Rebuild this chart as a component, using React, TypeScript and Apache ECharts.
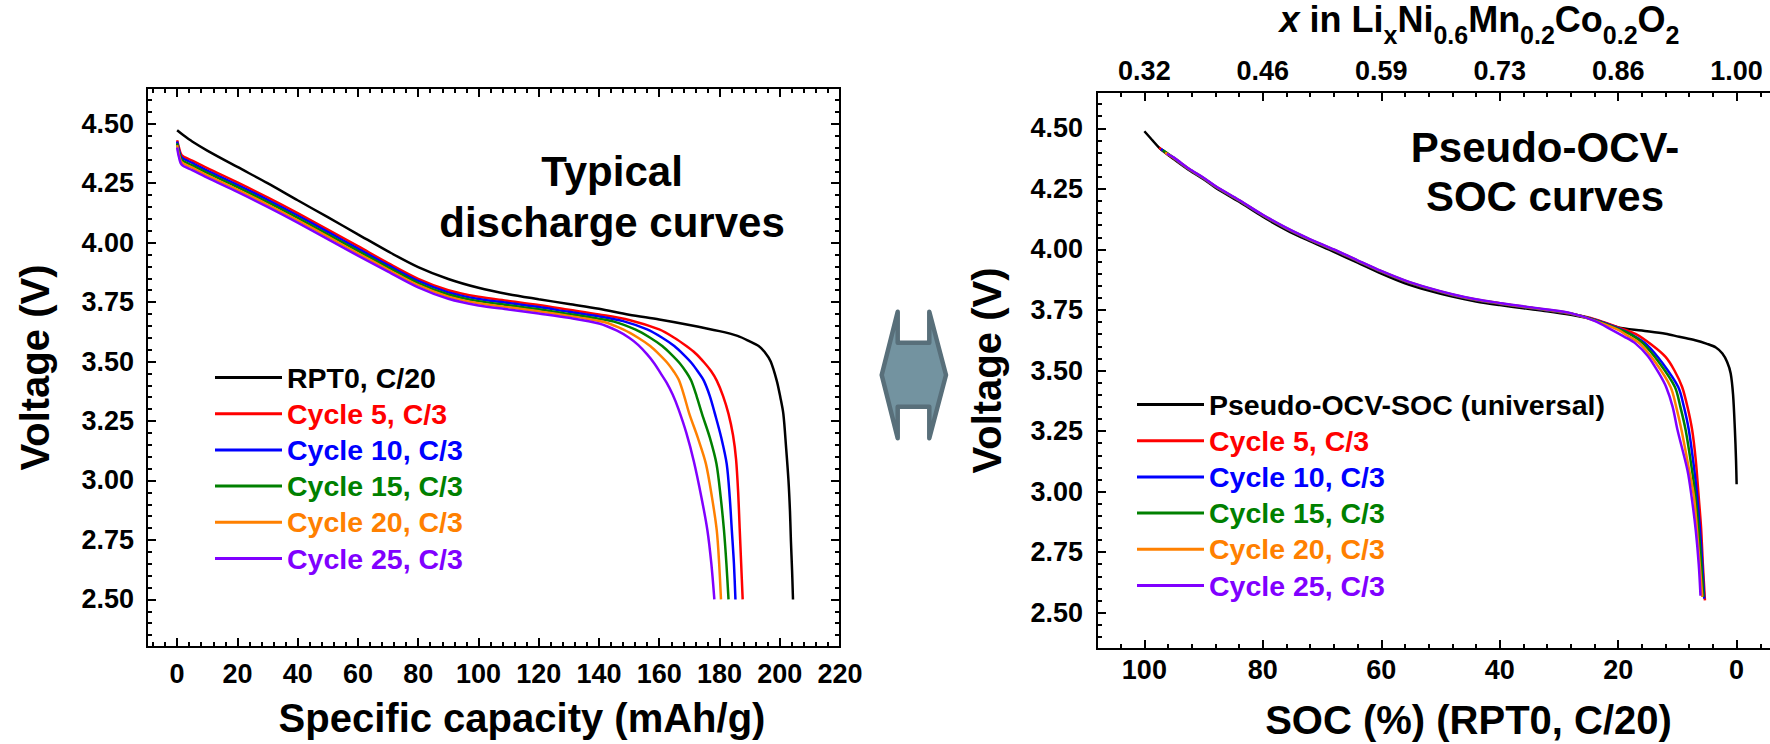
import React, { useEffect, useRef } from "react";
import * as echarts from "echarts";

const FONT = '"Liberation Sans", Arial, Helvetica, sans-serif';

// ---------- Left panel: [specific capacity (mAh/g), voltage (V)] ----------
const capRpt0: number[][] = [
  [0, 4.472], [2, 4.452], [5, 4.425], [10, 4.387], [20, 4.318], [30, 4.25], [40, 4.178],
  [50, 4.107], [60, 4.035], [70, 3.963], [80, 3.897], [90, 3.847], [100, 3.81],
  [110, 3.783], [120, 3.762], [130, 3.742], [140, 3.722], [150, 3.697], [160, 3.677],
  [170, 3.654], [180, 3.628], [186, 3.608], [190, 3.585], [193, 3.565], [195, 3.54],
  [197, 3.5], [199, 3.42], [200.2, 3.35], [201.2, 3.28], [202.1, 3.14], [202.9, 3.0],
  [203.4, 2.87], [203.7, 2.75], [204.1, 2.62], [204.4, 2.5],
];
const capCycle5: number[][] = [
  [0, 4.43], [0.6, 4.4], [1.5, 4.368], [5, 4.345], [10, 4.313], [20, 4.253], [30, 4.19],
  [40, 4.124], [50, 4.055], [60, 3.985], [70, 3.914], [80, 3.848], [90, 3.8],
  [100, 3.772], [110, 3.755], [120, 3.738], [130, 3.718], [140, 3.698], [150, 3.675],
  [160, 3.635], [165, 3.6], [169, 3.565], [172, 3.535], [175, 3.495], [177.2, 3.46],
  [179.1, 3.42], [181.2, 3.355], [183, 3.28], [184.5, 3.19], [185.5, 3.09], [186.2, 2.95],
  [186.7, 2.8], [187.2, 2.65], [187.7, 2.5],
];
const capCycle10: number[][] = [
  [0, 4.425], [0.6, 4.39], [1.5, 4.358], [5, 4.335], [10, 4.303], [20, 4.243], [30, 4.18],
  [40, 4.114], [50, 4.045], [60, 3.975], [70, 3.905], [80, 3.839], [90, 3.791],
  [100, 3.763], [110, 3.746], [120, 3.729], [130, 3.709], [140, 3.69], [148, 3.67],
  [156, 3.635], [161, 3.6], [165, 3.565], [168, 3.53], [171, 3.49], [173, 3.455],
  [174.8, 3.42], [176.8, 3.355], [178.5, 3.28], [180.6, 3.18], [182.4, 3.07], [183.4, 2.93],
  [184.1, 2.79], [184.8, 2.65], [185.3, 2.5],
];
const capCycle15: number[][] = [
  [0, 4.418], [0.6, 4.38], [1.5, 4.348], [5, 4.325], [10, 4.293], [20, 4.233], [30, 4.17],
  [40, 4.104], [50, 4.035], [60, 3.965], [70, 3.896], [80, 3.83], [90, 3.782],
  [100, 3.754], [110, 3.737], [120, 3.72], [130, 3.7], [138, 3.684], [145, 3.668],
  [152, 3.635], [157, 3.6], [161, 3.565], [164, 3.53], [167, 3.49], [169, 3.455],
  [170.6, 3.42], [172.4, 3.355], [174.2, 3.28], [176.8, 3.18], [179, 3.07], [180.4, 2.93],
  [181.5, 2.79], [182.3, 2.65], [183.0, 2.5],
];
const capCycle20: number[][] = [
  [0, 4.41], [0.6, 4.37], [1.5, 4.338], [5, 4.315], [10, 4.283], [20, 4.223], [30, 4.16],
  [40, 4.094], [50, 4.025], [60, 3.955], [70, 3.887], [80, 3.821], [90, 3.773],
  [100, 3.745], [110, 3.728], [120, 3.711], [130, 3.692], [136, 3.68], [142, 3.665],
  [148, 3.635], [153, 3.6], [157, 3.565], [160, 3.53], [163, 3.49], [165, 3.455],
  [166.6, 3.42], [168.3, 3.355], [170, 3.28], [172.8, 3.18], [175.5, 3.07], [177.5, 2.93],
  [179.1, 2.79], [179.9, 2.65], [180.5, 2.5],
];
const capCycle25: number[][] = [
  [0, 4.4], [0.6, 4.36], [1.5, 4.328], [5, 4.305], [10, 4.273], [20, 4.213], [30, 4.15],
  [40, 4.084], [50, 4.015], [60, 3.945], [70, 3.878], [80, 3.812], [90, 3.764],
  [100, 3.736], [110, 3.719], [120, 3.702], [130, 3.684], [140, 3.66], [146, 3.63],
  [150, 3.6], [153, 3.57], [156, 3.53], [158.5, 3.49], [160.5, 3.45], [162.5, 3.41],
  [164.5, 3.36], [166.4, 3.3], [169, 3.2], [171.5, 3.08], [174, 2.93], [176, 2.79],
  [177.3, 2.65], [178.3, 2.5],
];

// ---------- Right panel: [SOC (%), voltage (V)] ----------
const socPseudoOcv: number[][] = [
  [100, 4.488], [98.8, 4.455], [97.5, 4.42], [95, 4.372], [92.5, 4.328], [90, 4.29],
  [88, 4.255], [84, 4.197], [80, 4.135], [76, 4.08], [72.6, 4.04], [68, 3.99], [64, 3.945],
  [60, 3.9], [56, 3.86], [52, 3.83], [48, 3.805], [44, 3.785], [40, 3.77], [36, 3.757],
  [32, 3.745], [28, 3.73], [24, 3.71], [20, 3.678], [16, 3.665], [12, 3.652], [9.7, 3.639],
  [7, 3.625], [5, 3.61], [3.5, 3.595], [2.4, 3.57], [1.6, 3.535], [1.0, 3.488], [0.6, 3.4],
  [0.3, 3.26], [0.1, 3.13], [0, 3.03],
];
const socCycle5: number[][] = [
  [97.5, 4.42], [95, 4.375], [92.5, 4.331], [90, 4.293], [88, 4.259], [84, 4.201], [80, 4.14],
  [76, 4.086], [72.6, 4.046], [68, 3.997], [64, 3.952], [60, 3.908], [56, 3.869], [52, 3.838],
  [48, 3.812], [44, 3.791], [40, 3.776], [36, 3.762], [32, 3.749], [28, 3.734], [24, 3.712],
  [20, 3.678], [17, 3.65], [14.3, 3.605], [12, 3.556], [10.5, 3.5], [9.2, 3.432], [8.3, 3.35],
  [7.5, 3.253], [6.9, 3.13], [6.4, 2.978], [6.0, 2.85], [5.7, 2.7], [5.35, 2.551],
];
const socCycle10: number[][] = [
  [97.2, 4.415], [95, 4.376], [92.5, 4.331], [90, 4.293], [88, 4.259], [84, 4.201], [80, 4.14],
  [76, 4.086], [72.6, 4.046], [68, 3.997], [64, 3.952], [60, 3.908], [56, 3.869], [52, 3.838],
  [48, 3.812], [44, 3.791], [40, 3.776], [36, 3.762], [32, 3.749], [28, 3.734], [24, 3.71],
  [20, 3.675], [17.5, 3.645], [15.1, 3.605], [12.5, 3.53], [9.86, 3.432], [8.9, 3.35],
  [8.06, 3.253], [7.2, 3.1], [6.65, 2.978], [6.0, 2.78], [5.47, 2.558],
];
const socCycle15: number[][] = [
  [96.9, 4.41], [95, 4.377], [92.5, 4.332], [90, 4.294], [88, 4.26], [84, 4.202], [80, 4.141],
  [76, 4.087], [72.6, 4.047], [68, 3.998], [64, 3.953], [60, 3.909], [56, 3.87], [52, 3.839],
  [48, 3.813], [44, 3.792], [40, 3.777], [36, 3.763], [32, 3.75], [28, 3.735], [24, 3.708],
  [20, 3.672], [18, 3.65], [15.8, 3.612], [13, 3.53], [10.42, 3.432], [9.5, 3.35],
  [8.6, 3.253], [7.6, 3.1], [6.93, 2.978], [6.2, 2.78], [5.6, 2.565],
];
const socCycle20: number[][] = [
  [96.5, 4.4], [95, 4.378], [92.5, 4.333], [90, 4.295], [88, 4.261], [84, 4.203], [80, 4.142],
  [76, 4.088], [72.6, 4.048], [68, 3.999], [64, 3.954], [60, 3.91], [56, 3.871], [52, 3.84],
  [48, 3.814], [44, 3.793], [40, 3.778], [36, 3.764], [32, 3.751], [28, 3.736], [24, 3.706],
  [20, 3.668], [18.5, 3.645], [16.4, 3.612], [13.6, 3.53], [11.15, 3.432], [10.2, 3.35],
  [9.3, 3.253], [8.1, 3.1], [7.2, 2.978], [6.5, 2.78], [5.8, 2.565],
];
const socCycle25: number[][] = [
  [96.2, 4.395], [95, 4.379], [92.5, 4.334], [90, 4.296], [88, 4.262], [84, 4.204], [80, 4.143],
  [76, 4.089], [72.6, 4.049], [68, 4.0], [64, 3.955], [60, 3.911], [56, 3.872], [52, 3.841],
  [48, 3.815], [44, 3.794], [40, 3.779], [36, 3.765], [32, 3.752], [28, 3.737], [24, 3.705],
  [21, 3.667], [19, 3.64], [17.1, 3.612], [15, 3.56], [13.1, 3.488], [11.9, 3.432],
  [10.8, 3.35], [9.97, 3.253], [8.3, 3.088], [7.6, 2.978], [6.9, 2.84], [6.4, 2.7], [6.1, 2.57],
];

const leftNames = ["RPT0, C/20", "Cycle 5, C/3", "Cycle 10, C/3", "Cycle 15, C/3", "Cycle 20, C/3", "Cycle 25, C/3"];
const rightNames = ["Pseudo-OCV-SOC (universal)", "Cycle 5, C/3", "Cycle 10, C/3", "Cycle 15, C/3", "Cycle 20, C/3", "Cycle 25, C/3"];
const curveColors = ["#000000", "#ff0000", "#0000ff", "#008000", "#ff8000", "#8000ff"];
const leftCurves = [capRpt0, capCycle5, capCycle10, capCycle15, capCycle20, capCycle25];
const rightCurves = [socPseudoOcv, socCycle5, socCycle10, socCycle15, socCycle20, socCycle25];

// ---------- ticks ----------
const capTicks = [0, 20, 40, 60, 80, 100, 120, 140, 160, 180, 200, 220];
const voltTicks = [2.5, 2.75, 3.0, 3.25, 3.5, 3.75, 4.0, 4.25, 4.5];
const socTicks = [100, 80, 60, 40, 20, 0];
const liTickLabels = ["0.32", "0.46", "0.59", "0.73", "0.86", "1.00"];

function minorValues(from: number, to: number, step: number, majors: number[]) {
  const out: number[] = [];
  const n = Math.round((to - from) / step);
  for (let k = 0; k <= n; k++) {
    const v = Math.round((from + k * step) * 1000) / 1000;
    if (!majors.some((m) => Math.abs(m - v) < 1e-6)) out.push(v);
  }
  return out;
}
const capMinor = minorValues(-8, 216, 4, capTicks);
const voltMinorLeft = minorValues(2.35, 4.6, 0.05, voltTicks);
const voltMinorRight = minorValues(2.4, 4.6, 0.05, voltTicks);
const socMinor = minorValues(-4, 104, 4, socTicks);

const labelBase = { fontFamily: FONT, fontWeight: "bold", color: "#000", fontSize: 27 };
const nameBase = { fontFamily: FONT, fontWeight: "bold", color: "#000", fontSize: 40 };

function makeAxis(o: any) {
  const a: any = {
    type: "value",
    gridIndex: o.grid,
    position: o.position,
    min: o.min,
    max: o.max,
    inverse: !!o.inverse,
    axisLine: { show: true, onZero: false, lineStyle: { color: "#000", width: 2 } },
    axisTick: { show: true, inside: true, length: o.len, customValues: o.ticks, lineStyle: { color: "#000", width: 2 } },
    axisLabel: o.label ? { show: true, customValues: o.ticks, ...labelBase, ...o.label } : { show: false },
    splitLine: { show: false },
    minorTick: { show: false },
  };
  if (o.name) Object.assign(a, o.name);
  return a;
}

export default function App() {
  const ref = useRef<HTMLDivElement>(null);
  useEffect(() => {
    document.body.style.margin = "0";
    if (!ref.current) return;
    const chart = echarts.init(ref.current, null, { renderer: "svg" });
    const volt = (v: number) => v.toFixed(2);

    const xAxis = [
      makeAxis({ grid: 0, position: "bottom", min: -10, max: 220, ticks: capTicks, len: 9,
        label: { margin: 13, formatter: (v: number) => String(v) },
        name: { name: "Specific capacity (mAh/g)", nameLocation: "middle", nameGap: 51, nameTextStyle: { ...nameBase, padding: [0, 0, 0, 57] } } }),
      makeAxis({ grid: 0, position: "bottom", min: -10, max: 220, ticks: capMinor, len: 5 }),
      makeAxis({ grid: 0, position: "top", min: -10, max: 220, ticks: capTicks, len: 9 }),
      makeAxis({ grid: 0, position: "top", min: -10, max: 220, ticks: capMinor, len: 5 }),
      makeAxis({ grid: 1, position: "bottom", min: -8, max: 108, inverse: true, ticks: socTicks, len: 9,
        label: { margin: 7, formatter: (v: number) => String(v) },
        name: { name: "SOC (%) (RPT0, C/20)", nameLocation: "middle", nameGap: 51, nameTextStyle: { ...nameBase, padding: [0, 0, 0, 56] } } }),
      makeAxis({ grid: 1, position: "bottom", min: -8, max: 108, inverse: true, ticks: socMinor, len: 5 }),
      makeAxis({ grid: 1, position: "top", min: -8, max: 108, inverse: true, ticks: socTicks, len: 9,
        label: { margin: 8, formatter: (v: number) => { const i = socTicks.indexOf(v); return i >= 0 ? liTickLabels[i] : ""; } },
        name: {
          name: "{i|x}{m| in Li}{s|x}{m|Ni}{s|0.6}{m|Mn}{s|0.2}{m|Co}{s|0.2}{m|O}{s|2}",
          nameLocation: "middle", nameGap: 45,
          nameTextStyle: {
            ...nameBase, fontSize: 36, padding: [0, 0, 0, 78],
            rich: {
              m: { fontFamily: FONT, fontWeight: "bold", color: "#000", fontSize: 36, lineHeight: 36, verticalAlign: "top" },
              i: { fontFamily: FONT, fontWeight: "bold", fontStyle: "italic", color: "#000", fontSize: 36, lineHeight: 36, verticalAlign: "top" },
              s: { fontFamily: FONT, fontWeight: "bold", color: "#000", fontSize: 25, lineHeight: 46, verticalAlign: "bottom" },
            },
          },
        } }),
      makeAxis({ grid: 1, position: "top", min: -8, max: 108, inverse: true, ticks: socMinor, len: 5 }),
    ];

    const yAxis = [
      makeAxis({ grid: 0, position: "left", min: 2.3, max: 4.65, ticks: voltTicks, len: 9,
        label: { margin: 13, formatter: volt },
        name: { name: "Voltage (V)", nameLocation: "middle", nameGap: 92, nameTextStyle: { ...nameBase } } }),
      makeAxis({ grid: 0, position: "left", min: 2.3, max: 4.65, ticks: voltMinorLeft, len: 5 }),
      makeAxis({ grid: 0, position: "right", min: 2.3, max: 4.65, ticks: voltTicks, len: 9 }),
      makeAxis({ grid: 0, position: "right", min: 2.3, max: 4.65, ticks: voltMinorLeft, len: 5 }),
      makeAxis({ grid: 1, position: "left", min: 2.35, max: 4.65, ticks: voltTicks, len: 9,
        label: { margin: 14, formatter: volt },
        name: { name: "Voltage (V)", nameLocation: "middle", nameGap: 90, nameTextStyle: { ...nameBase } } }),
      makeAxis({ grid: 1, position: "left", min: 2.35, max: 4.65, ticks: voltMinorRight, len: 5 }),
    ];

    const mkSeries = (curves: number[][][], names: string[], xi: number, yi: number) =>
      curves.map((d, i) => ({
        type: "line",
        name: names[i],
        xAxisIndex: xi,
        yAxisIndex: yi,
        data: d,
        showSymbol: false,
        symbol: "none",
        smooth: 0.3,
        lineStyle: { width: 2.5, color: curveColors[i] },
        itemStyle: { color: curveColors[i] },
        z: 3 + i,
      }));

    const legendBase = {
      orient: "vertical",
      itemWidth: 67,
      itemHeight: 3,
      itemGap: 7.2,
      icon: "rect",
      padding: 0,
      selectedMode: false,
      textStyle: { fontFamily: FONT, fontWeight: "bold", fontSize: 28.5 },
    };

    chart.setOption({
      animation: false,
      backgroundColor: "#ffffff",
      grid: [
        { left: 147, top: 88, width: 693, height: 559, outerBoundsMode: "none", containLabel: false },
        { left: 1097, top: 92, width: 687, height: 557, outerBoundsMode: "none", containLabel: false },
      ],
      xAxis,
      yAxis,
      legend: [
        { ...legendBase, left: 215, top: 363, data: leftNames.map((n, i) => ({ name: n, textStyle: { color: curveColors[i] } })) },
        { ...legendBase, left: 1137, top: 390, data: rightNames.map((n, i) => ({ name: n, textStyle: { color: curveColors[i] } })) },
      ],
      series: [...mkSeries(leftCurves, leftNames, 0, 0), ...mkSeries(rightCurves, rightNames, 4, 4)],
      graphic: [
        {
          type: "polygon",
          shape: {
            points: [
              [881.7, 375], [897.7, 311.7], [897.7, 342.7], [929.3, 342.7], [929.3, 311.7],
              [946, 375], [929.3, 438.3], [929.3, 406.7], [897.7, 406.7], [897.7, 438.3],
            ],
          },
          style: { fill: "#7393a0", stroke: "#586f7a", lineWidth: 4.5, lineJoin: "round" },
        },
        {
          type: "text", x: 612, y: 197,
          style: { text: "Typical\ndischarge curves", align: "center", verticalAlign: "middle", textAlign: "center", textVerticalAlign: "middle",
            fontFamily: FONT, fontWeight: "bold", fontSize: 42, lineHeight: 51, fill: "#000" },
        },
        {
          type: "text", x: 1545, y: 172,
          style: { text: "Pseudo-OCV-\nSOC curves", align: "center", verticalAlign: "middle", textAlign: "center", textVerticalAlign: "middle",
            fontFamily: FONT, fontWeight: "bold", fontSize: 42, lineHeight: 49, fill: "#000" },
        },
      ],
    });
    return () => chart.dispose();
  }, []);
  return <div ref={ref} style={{ width: 1770, height: 744 }} />;
}
